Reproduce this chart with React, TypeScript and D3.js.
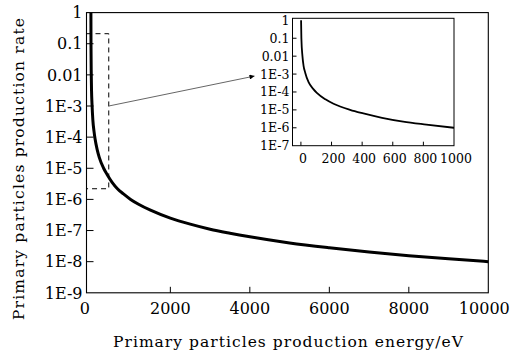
import React, { useEffect, useRef } from 'react';
import * as d3 from 'd3';

// values
const energy = [1, 3, 10, 17, 28, 50, 80, 104, 160, 213, 321, 408, 530, 668, 820, 1000, 1200, 1500, 2000, 2500, 3000, 3500, 4000, 5000, 6000, 7000, 8000, 9000, 10000];
const rate = [1, 0.1, 0.01, 3e-3, 1.2e-3, 3.5e-4, 1.5e-4, 9e-5, 3.9e-5, 2.2e-5, 1e-5, 6.3e-6, 3.6e-6, 2.2e-6, 1.5e-6, 1e-6, 7e-7, 4.5e-7, 2.5e-7, 1.6e-7, 1.1e-7, 8.2e-8, 6.3e-8, 4e-8, 2.8e-8, 2.05e-8, 1.56e-8, 1.23e-8, 1e-8];

const xTicks = [0, 2000, 4000, 6000, 8000, 10000];
const yTicks = [1, 0.1, 0.01, 1e-3, 1e-4, 1e-5, 1e-6, 1e-7, 1e-8, 1e-9];
const yTickLabels = ['1', '0.1', '0.01', '1E-3', '1E-4', '1E-5', '1E-6', '1E-7', '1E-8', '1E-9'];

const insetXTicks = [0, 200, 400, 600, 800, 1000];
const insetYTicks = [1, 0.1, 0.01, 1e-3, 1e-4, 1e-5, 1e-6, 1e-7];
const insetYTickLabels = ['1', '0.1', '0.01', '1E-3', '1E-4', '1E-5', '1E-6', '1E-7'];

// zoomed region marked with the dashed box
const zoomBox = { e0: -110, e1: 450, r0: 2.2e-6, r1: 0.21 };

const FONT = '"DejaVu Serif", serif';

const App = () => {
  const svgRef = useRef<SVGSVGElement>(null);

  useEffect(() => {
    const width = 511;
    const height = 352;
    const svg = d3.select(svgRef.current).attr('width', width).attr('height', height);
    svg.selectAll('*').remove();
    svg.style('font-family', FONT);

    const data = energy.map((e, i) => ({ e, r: rate[i] }));

    // main plot
    const x = d3.scaleLinear().domain([-110, 10000]).range([86.5, 488.3]);
    const y = d3.scaleLog().domain([1e-9, 1]).range([292.8, 12.6]);
    const [x0, x1] = x.range();
    const [yb, yt] = y.range();

    svg.append('rect')
      .attr('x', x0).attr('y', yt).attr('width', x1 - x0).attr('height', yb - yt)
      .attr('fill', 'none').attr('stroke', '#000').attr('stroke-width', 1.1);

    svg.append('g').selectAll('line')
      .data(yTicks.slice(1, -1))
      .join('line')
      .attr('x1', x0).attr('x2', x0 + 7)
      .attr('y1', d => y(d)).attr('y2', d => y(d))
      .attr('stroke', '#000');

    svg.append('g').selectAll('text')
      .data(yTicks)
      .join('text')
      .attr('x', x0 - 4)
      .attr('y', d => y(d))
      .attr('dy', '0.36em')
      .attr('text-anchor', 'end')
      .style('font-size', '16px')
      .text((d, i) => yTickLabels[i]);

    svg.append('g').selectAll('line')
      .data(xTicks.slice(1, -1))
      .join('line')
      .attr('x1', d => x(d)).attr('x2', d => x(d))
      .attr('y1', yb).attr('y2', yb - 6)
      .attr('stroke', '#000');

    svg.append('g').selectAll('text')
      .data(xTicks)
      .join('text')
      .attr('x', d => x(d) + (d === 0 ? -6 : d === 10000 ? -4 : 0))
      .attr('y', 313.5)
      .attr('text-anchor', 'middle')
      .style('font-size', '16px')
      .text(d => String(d));

    // dashed box around the zoomed region
    svg.append('rect')
      .attr('x', x(zoomBox.e0)).attr('y', y(zoomBox.r1))
      .attr('width', x(zoomBox.e1) - x(zoomBox.e0))
      .attr('height', y(zoomBox.r0) - y(zoomBox.r1))
      .attr('fill', 'none').attr('stroke', '#000').attr('stroke-width', 1)
      .attr('stroke-dasharray', '5,4');

    const line = d3.line<{ e: number; r: number }>()
      .x(d => x(d.e)).y(d => y(d.r))
      .curve(d3.curveMonotoneX);

    svg.append('path')
      .datum(data)
      .attr('d', line)
      .attr('fill', 'none').attr('stroke', '#000').attr('stroke-width', 3);

    // inset
    const ix = d3.scaleLinear().domain([-55, 1000]).range([292.5, 454]);
    const iy = d3.scaleLog().domain([1e-7, 1.3]).range([145.7, 18.3]);
    const [ix0, ix1] = ix.range();
    const [iyb, iyt] = iy.range();

    svg.append('rect')
      .attr('x', ix0).attr('y', iyt).attr('width', ix1 - ix0).attr('height', iyb - iyt)
      .attr('fill', '#fff').attr('stroke', '#000').attr('stroke-width', 1);

    svg.append('g').selectAll('line')
      .data(insetYTicks.slice(1, -1))
      .join('line')
      .attr('x1', ix0).attr('x2', ix0 + 4)
      .attr('y1', d => iy(d)).attr('y2', d => iy(d))
      .attr('stroke', '#000');

    svg.append('g').selectAll('text')
      .data(insetYTicks)
      .join('text')
      .attr('x', ix0 - 3)
      .attr('y', d => iy(d))
      .attr('dy', '0.36em')
      .attr('text-anchor', 'end')
      .style('font-size', '12.5px')
      .text((d, i) => insetYTickLabels[i]);

    svg.append('g').selectAll('line')
      .data(insetXTicks.slice(0, -1))
      .join('line')
      .attr('x1', d => ix(d)).attr('x2', d => ix(d))
      .attr('y1', iyb).attr('y2', iyb - 4)
      .attr('stroke', '#000');

    svg.append('g').selectAll('text')
      .data(insetXTicks)
      .join('text')
      .attr('x', d => ix(d) + 2)
      .attr('y', 162.5)
      .attr('text-anchor', 'middle')
      .style('font-size', '12.5px')
      .text(d => String(d));

    const iline = d3.line<{ e: number; r: number }>()
      .x(d => ix(d.e)).y(d => iy(d.r))
      .curve(d3.curveMonotoneX);

    svg.append('path')
      .datum(data.filter(d => d.e <= 1000))
      .attr('d', iline)
      .attr('fill', 'none').attr('stroke', '#000').attr('stroke-width', 1.8);

    // arrow from the dashed box to the inset
    const ax0 = x(zoomBox.e1);
    const ay0 = y(1e-3);
    const ax1 = ix0 - 38;
    const ay1 = iy(1e-3) + 2;
    svg.append('defs').append('marker')
      .attr('id', 'arrowHead')
      .attr('viewBox', '0 0 10 10')
      .attr('refX', 10).attr('refY', 5)
      .attr('markerWidth', 7).attr('markerHeight', 5)
      .attr('markerUnits', 'userSpaceOnUse')
      .attr('orient', 'auto')
      .append('path')
      .attr('d', 'M0,0L10,5L0,10Z')
      .attr('fill', '#000');

    svg.append('line')
      .attr('x1', ax0).attr('y1', ay0)
      .attr('x2', ax1).attr('y2', ay1)
      .attr('stroke', '#666').attr('stroke-width', 1)
      .attr('marker-end', 'url(#arrowHead)');

    // axis titles
    svg.append('text')
      .attr('x', 288).attr('y', 347)
      .attr('text-anchor', 'middle')
      .style('font-size', '15.5px')
      .attr('textLength', 350).attr('lengthAdjust', 'spacing')
      .text('Primary particles production energy/eV');

    svg.append('text')
      .attr('transform', 'translate(23.5,169) rotate(-90)')
      .attr('text-anchor', 'middle')
      .style('font-size', '15.5px')
      .attr('textLength', 302).attr('lengthAdjust', 'spacing')
      .text('Primary particles production rate');
  }, []);

  return (
    <svg
      ref={svgRef}
      style={{ position: 'absolute', left: 0, top: 0, display: 'block', background: '#fff' }}
    />
  );
};

export default App;
